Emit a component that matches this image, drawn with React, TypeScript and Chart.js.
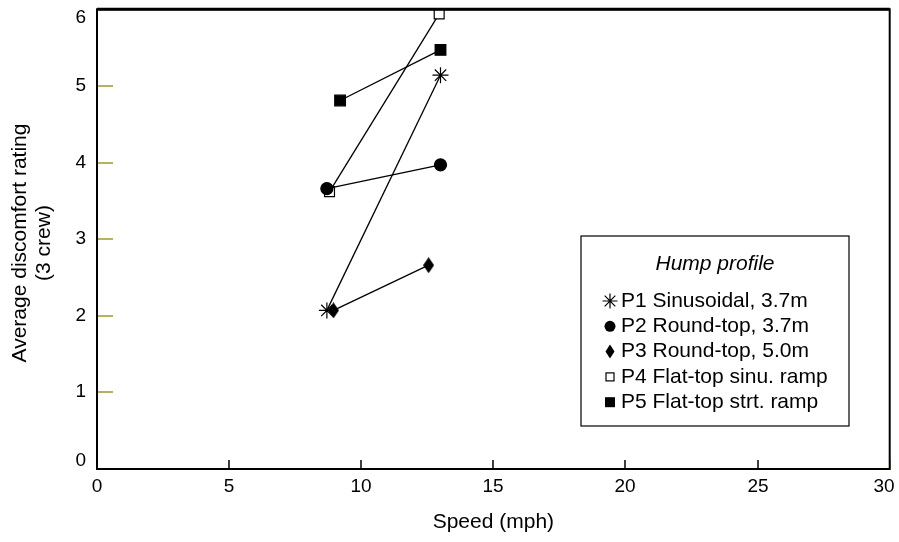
import { useEffect, useRef } from 'react';
import { Chart, registerables } from 'chart.js';

Chart.register(...registerables);

const xTickValues = [0, 5, 10, 15, 20, 25, 30];
const yTickValues = [0, 1, 2, 3, 4, 5, 6];

const seriesLabels = [
  'P1 Sinusoidal, 3.7m',
  'P2 Round-top, 3.7m',
  'P3 Round-top, 5.0m',
  'P4 Flat-top sinu. ramp',
  'P5 Flat-top strt. ramp',
];

const p1Speed = [8.7, 13.0];
const p1Rating = [2.07, 5.14];
const p2Speed = [8.7, 13.0];
const p2Rating = [3.66, 3.97];
const p3Speed = [8.95, 12.55];
const p3Rating = [2.07, 2.66];
const p4Speed = [8.8, 12.95];
const p4Rating = [3.62, 5.94];
const p5Speed = [9.2, 13.0];
const p5Rating = [4.81, 5.47];

const FONT = '"Liberation Sans", Arial, Helvetica, sans-serif';
const OLIVE = '#b4b45e';

function makeDiamond(w: number, h: number): HTMLCanvasElement {
  const c = document.createElement('canvas');
  c.width = w;
  c.height = h;
  const ctx = c.getContext('2d')!;
  ctx.fillStyle = '#000';
  ctx.beginPath();
  ctx.moveTo(w / 2, 0);
  ctx.lineTo(w, h / 2);
  ctx.lineTo(w / 2, h);
  ctx.lineTo(0, h / 2);
  ctx.closePath();
  ctx.fill();
  return c;
}

function pts(xs: number[], ys: number[]) {
  return xs.map((x, i) => ({ x, y: ys[i] }));
}

function drawMarker(ctx: CanvasRenderingContext2D, kind: number, x: number, y: number) {
  ctx.save();
  ctx.fillStyle = '#000';
  ctx.strokeStyle = '#000';
  ctx.lineWidth = 1.2;
  if (kind === 0) {
    const r = 7.5;
    ctx.beginPath();
    for (let k = 0; k < 4; k++) {
      const a = (k * Math.PI) / 4;
      ctx.moveTo(x - r * Math.cos(a), y - r * Math.sin(a));
      ctx.lineTo(x + r * Math.cos(a), y + r * Math.sin(a));
    }
    ctx.stroke();
  } else if (kind === 1) {
    ctx.beginPath();
    ctx.arc(x, y, 5.5, 0, Math.PI * 2);
    ctx.fill();
  } else if (kind === 2) {
    ctx.beginPath();
    ctx.moveTo(x, y - 7);
    ctx.lineTo(x + 4.5, y);
    ctx.lineTo(x, y + 7);
    ctx.lineTo(x - 4.5, y);
    ctx.closePath();
    ctx.fill();
  } else if (kind === 3) {
    ctx.fillStyle = '#fff';
    ctx.fillRect(x - 4, y - 4, 8, 8);
    ctx.strokeRect(x - 4, y - 4, 8, 8);
  } else {
    ctx.fillRect(x - 5, y - 5, 10, 10);
  }
  ctx.restore();
}

const framePlugin = {
  id: 'framePlugin',
  afterDraw(chart: any) {
    const { ctx, chartArea: a, scales } = chart;
    const xs = scales.x;
    const ys = scales.y;
    ctx.save();
    // y ticks (inward, olive) and labels
    yTickValues.forEach((v) => {
      const py = Math.round(ys.getPixelForValue(v));
      ctx.strokeStyle = OLIVE;
      ctx.lineWidth = 2;
      ctx.beginPath();
      ctx.moveTo(a.left, py);
      ctx.lineTo(a.left + 16, py);
      ctx.stroke();
      ctx.fillStyle = '#000';
      ctx.font = `19px ${FONT}`;
      ctx.textAlign = 'right';
      ctx.textBaseline = 'middle';
      ctx.fillText(String(v), 86, Math.min(Math.max(py, 18), 461));
    });
    // x ticks (inward) and labels
    xTickValues.forEach((v, i) => {
      const px = Math.round(xs.getPixelForValue(v));
      ctx.strokeStyle = i === 0 || i === xTickValues.length - 1 ? OLIVE : '#000';
      ctx.lineWidth = 1.5;
      ctx.beginPath();
      ctx.moveTo(px, a.bottom);
      ctx.lineTo(px, a.bottom - 9);
      ctx.stroke();
      ctx.fillStyle = '#000';
      ctx.font = `19px ${FONT}`;
      ctx.textAlign = 'center';
      ctx.textBaseline = 'middle';
      ctx.fillText(String(v), Math.min(px, 884), 487);
    });
    // frame
    ctx.strokeStyle = '#000';
    ctx.lineWidth = 2;
    ctx.strokeRect(a.left, a.top, a.right - a.left, a.bottom - a.top);
    ctx.lineWidth = 3;
    ctx.beginPath();
    ctx.moveTo(a.left, a.top);
    ctx.lineTo(a.right, a.top);
    ctx.stroke();

    // axis titles
    ctx.fillStyle = '#000';
    ctx.font = `21px ${FONT}`;
    ctx.textAlign = 'center';
    ctx.textBaseline = 'middle';
    ctx.fillText('Speed (mph)', (a.left + a.right) / 2, 522);
    ctx.save();
    ctx.translate(20, 243);
    ctx.rotate(-Math.PI / 2);
    ctx.fillText('Average discomfort rating', 0, 0);
    ctx.restore();
    ctx.save();
    ctx.translate(44, 243);
    ctx.rotate(-Math.PI / 2);
    ctx.fillText('(3 crew)', 0, 0);
    ctx.restore();

    // legend box
    const bx = 581, by = 236, bw = 268, bh = 190;
    ctx.fillStyle = '#fff';
    ctx.fillRect(bx, by, bw, bh);
    ctx.strokeStyle = '#000';
    ctx.lineWidth = 1.2;
    ctx.strokeRect(bx, by, bw, bh);
    ctx.fillStyle = '#000';
    ctx.font = `italic 21px ${FONT}`;
    ctx.textAlign = 'center';
    ctx.fillText('Hump profile', 715, 264);
    ctx.font = `21px ${FONT}`;
    ctx.textAlign = 'left';
    seriesLabels.forEach((lab, i) => {
      const yy = 301 + i * 25.3;
      drawMarker(ctx, i, 610, yy);
      ctx.fillStyle = '#000';
      ctx.fillText(lab, 621, yy);
    });
    ctx.restore();
  },
};

export default function App() {
  const ref = useRef<HTMLCanvasElement>(null);
  useEffect(() => {
    document.body.style.margin = '0';
    const diamond = makeDiamond(11, 16);
    const common = {
      showLine: true,
      borderColor: '#000',
      borderWidth: 1.3,
      pointBorderColor: '#000',
    };
    const chart = new Chart(ref.current!, {
      type: 'scatter',
      data: {
        datasets: [
          { ...common, label: seriesLabels[0], data: pts(p1Speed, p1Rating), pointStyle: 'star', pointRadius: 8, pointBorderWidth: 1.2, backgroundColor: '#000' },
          { ...common, label: seriesLabels[1], data: pts(p2Speed, p2Rating), pointStyle: 'circle', pointRadius: 6, pointBackgroundColor: '#000', backgroundColor: '#000' },
          { ...common, label: seriesLabels[2], data: pts(p3Speed, p3Rating), pointStyle: diamond as any, pointRadius: 8, backgroundColor: '#000' },
          { ...common, label: seriesLabels[3], data: pts(p4Speed, p4Rating), pointStyle: 'rect', pointRadius: 7, pointBorderWidth: 1.2, pointBackgroundColor: '#fff', backgroundColor: '#fff' },
          { ...common, label: seriesLabels[4], data: pts(p5Speed, p5Rating), pointStyle: 'rect', pointRadius: 7.5, pointBackgroundColor: '#000', backgroundColor: '#000' },
        ],
      },
      options: {
        animation: false,
        responsive: false,
        devicePixelRatio: 1,
        layout: { padding: { left: 0, top: 9, right: 8, bottom: 0 } },
        plugins: { legend: { display: false }, tooltip: { enabled: false } },
        scales: {
          x: {
            type: 'linear',
            min: 0,
            max: 30,
            afterBuildTicks: (s: any) => { s.ticks = xTickValues.map((v) => ({ value: v })); },
            afterFit: (s: any) => { s.height = 73; s.paddingLeft = 0; s.paddingRight = 0; },
            grid: { display: false, drawTicks: false },
            border: { display: false },
            ticks: { display: false },
          },
          y: {
            type: 'linear',
            min: 0,
            max: 6,
            afterBuildTicks: (s: any) => { s.ticks = yTickValues.map((v) => ({ value: v })); },
            afterFit: (s: any) => { s.width = 97; s.paddingTop = 0; s.paddingBottom = 0; },
            grid: { display: false, drawTicks: false },
            border: { display: false },
            ticks: { display: false },
          },
        },
      },
      plugins: [framePlugin],
    });
    return () => chart.destroy();
  }, []);
  return (
    <div style={{ position: 'fixed', left: 0, top: 0, width: 899, height: 542, background: '#fff' }}>
      <canvas ref={ref} width={899} height={542} style={{ width: 899, height: 542 }} />
    </div>
  );
}
